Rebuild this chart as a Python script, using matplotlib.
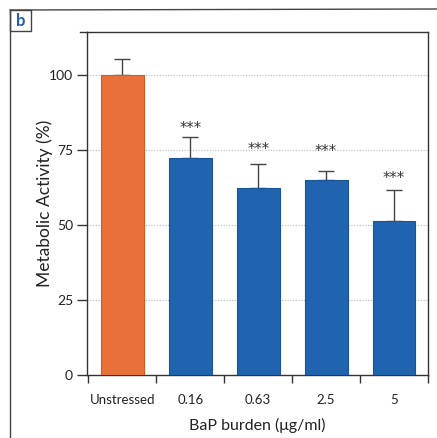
import matplotlib
matplotlib.use("Agg")
import matplotlib.pyplot as plt
from matplotlib.lines import Line2D
from matplotlib.patches import Rectangle

categories = ["Unstressed", "0.16", "0.63", "2.5", "5"]
values = [100.0, 72.3, 62.3, 65.0, 51.4]
err_up = [5.3, 7.0, 8.0, 3.0, 10.3]
stars = ["", "***", "***", "***", "***"]
star_y = [None, 84.7, 77.7, 77.0, 68.0]
yticks = [0, 25, 50, 75, 100]

plt.rcParams['font.family'] = ['Lato', 'DejaVu Sans']

W, H = 437, 438
fig = plt.figure(figsize=(W / 100, H / 100), dpi=100)
ax = fig.add_axes([87 / W, 1 - 375 / H, (428 - 87) / W, (375 - 32) / H])

orange = "#E8703A"
blue = "#2063AE"
colors = [orange] + [blue] * 4
edges = ["#D85A20"] + ["#1A559A"] * 4
x = list(range(len(categories)))
ax.bar(x, values, width=0.63, color=colors, edgecolor=edges, linewidth=0.8, zorder=3)
ax.errorbar(x, values, yerr=[[0] * len(x), err_up], fmt="none", ecolor="#444444",
            elinewidth=1.0, capsize=6, capthick=1.0, zorder=2)
for xi, s, sy in zip(x, stars, star_y):
    if s:
        ax.text(xi, sy - 2.5, s, ha="center", va="center", fontsize=10.5, color="#333333",
                family=["DejaVu Sans"])

ax.set_xlim(-0.52, 4.48)
ax.set_ylim(0, 114.3)
ax.set_yticks(yticks)
ax.set_yticklabels([str(t) for t in yticks], fontsize=10, color="#222222")
for t in yticks[1:]:
    ax.axhline(t, color="#BBBBBB", linestyle=(0, (1, 1.5)), linewidth=0.8, zorder=1)

ax.set_xticks(x)
ax.set_xticklabels(categories, fontsize=9.5, color="#222222")
ax.tick_params(axis="x", which="major", length=0, pad=14)
ax.set_xticks([i - 0.5 for i in range(len(x) + 1)], minor=True)
ax.tick_params(axis="x", which="minor", length=6, width=1.0, color="#333333", direction="out")
ax.tick_params(axis="y", length=7, width=1.0, color="#333333", pad=3)

for sp in ax.spines.values():
    sp.set_color("#333333")
    sp.set_linewidth(1.0)

ax.set_ylabel("Metabolic Activity (%)", fontsize=12.5, color="#222222", labelpad=-3)
ax.set_xlabel("BaP burden (\u03bcg/ml)", fontsize=11.5, color="#222222", labelpad=8)

# extension of the top line to the left
fig.add_artist(Line2D([80 / W, 87 / W], [1 - 32 / H, 1 - 32 / H], color="#333333", linewidth=1.0))

# outer frame
fig.add_artist(Line2D([10 / W, 10 / W], [0, 1 - 10 / H], color="#444444", linewidth=1.0))
fig.add_artist(Line2D([10 / W, 1], [1 - 10 / H, 1 - 9 / H], color="#444444", linewidth=1.0))
fig.add_artist(Rectangle((10 / W, 1 - 31 / H), 21 / W, 21 / H, fill=False,
                         edgecolor="#444444", linewidth=1.0, transform=fig.transFigure))
fig.text(20.5 / W, 1 - 20.5 / H, "b", ha="center", va="center", fontsize=12,
         color="#1F5FB0", fontweight="bold")

fig.savefig("out.png", dpi=100)
